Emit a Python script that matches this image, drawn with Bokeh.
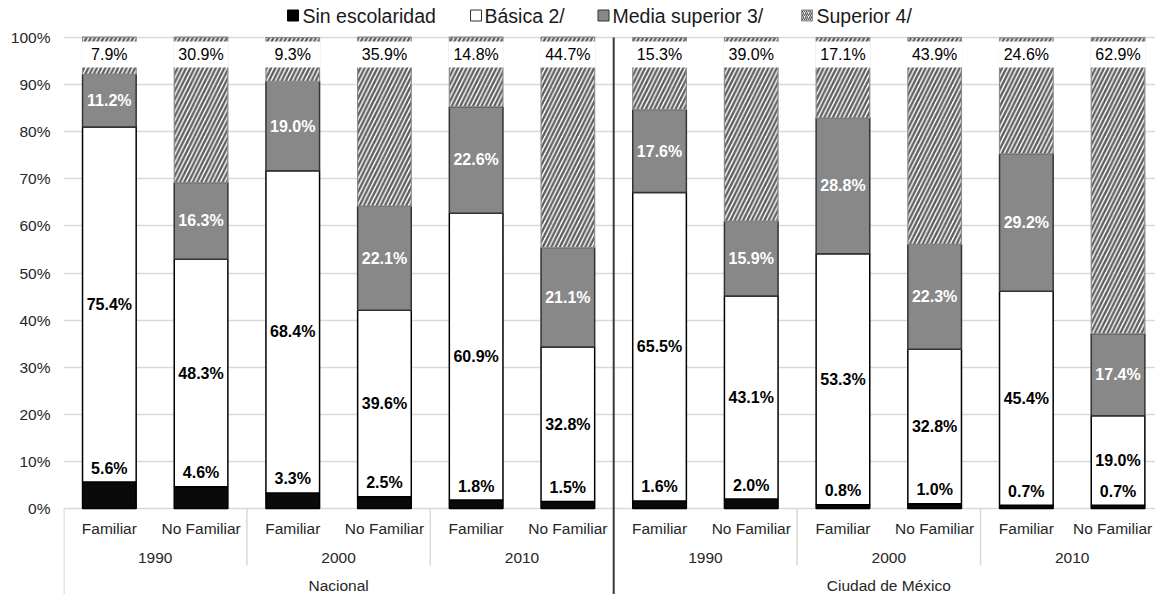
from bokeh.plotting import figure
from bokeh.models import ColumnDataSource, FixedTicker
from bokeh.core.properties import value
from bokeh.embed import file_html
from bokeh.resources import INLINE

# ---- data -------------------------------------------------------------
hogar = ["Familiar", "No Familiar"] * 6
anios = ["1990", "2000", "2010"]
ambitos = ["Nacional", "Ciudad de México"]

sin_escolaridad = [5.6, 4.6, 3.3, 2.5, 1.8, 1.5, 1.6, 2.0, 0.8, 1.0, 0.7, 0.7]
basica = [75.4, 48.3, 68.4, 39.6, 60.9, 32.8, 65.5, 43.1, 53.3, 32.8, 45.4, 19.0]
media_superior = [11.2, 16.3, 19.0, 22.1, 22.6, 21.1, 17.6, 15.9, 28.8, 22.3, 29.2, 17.4]
superior = [7.9, 30.9, 9.3, 35.9, 14.8, 44.7, 15.3, 39.0, 17.1, 43.9, 24.6, 62.9]

series_names = ["Sin escolaridad", "Básica 2/", "Media superior 3/", "Superior 4/"]
y_ticks = list(range(0, 101, 10))

# ---- layout helpers (pixel geometry of the canvas) --------------------
W, H = 1155, 594
LEFT = 63
Y0_PX, Y100_PX = 508, 37
PPU_Y = (Y0_PX - Y100_PX) / 100.0
PITCH = 91.7
Y_TOP = 100 + Y100_PX / PPU_Y
Y_BOT = -(H - Y0_PX) / PPU_Y
X_START = -0.5
X_END = X_START + (W - LEFT) / PITCH


def ydat(py):
    return (Y0_PX - py) / PPU_Y


def xdat(px):
    return X_START + (px - LEFT) / PITCH


FONT = value("Liberation Sans")
TXT = "#262626"
BAR_W = 0.585
HATCH = dict(hatch_pattern="/", hatch_color="#5e5e5e")

p = figure(width=W, height=H, output_backend="svg", toolbar_location=None,
           x_range=(X_START, X_END), y_range=(Y_BOT, Y_TOP),
           x_axis_location=None, min_border_left=LEFT, min_border_right=0,
           min_border_top=0, min_border_bottom=0)
p.outline_line_color = None
p.background_fill_color = "white"
p.border_fill_color = "white"
p.xgrid.visible = False

ax = p.yaxis[0]
ax.ticker = FixedTicker(ticks=y_ticks)
ax.major_label_overrides = {t: f"{t}%" for t in y_ticks}
ax.axis_line_color = None
ax.major_tick_line_color = None
ax.minor_tick_line_color = None
ax.major_tick_out = 0
ax.major_label_standoff = 13
ax.major_label_text_font = "Liberation Sans"
ax.major_label_text_font_size = "15.5px"
ax.major_label_text_color = TXT

p.ygrid.ticker = FixedTicker(ticks=y_ticks)
p.ygrid.grid_line_color = "#d9d9d9"
p.ygrid.grid_line_width = 1.5

# ---- stacked bars -----------------------------------------------------
xs = list(range(len(hogar)))
b0 = [0.0] * len(xs)
t0 = sin_escolaridad
b1 = t0
t1 = [a + b for a, b in zip(b1, basica)]
b2 = t1
t2 = [a + b for a, b in zip(b2, media_superior)]
b3 = t2
t3 = [a + b for a, b in zip(b3, superior)]

p.vbar(x=xs, bottom=b0, top=t0, width=BAR_W, fill_color="#0a0a0a",
       line_color="black", line_width=1.5)
p.vbar(x=xs, bottom=b1, top=t1, width=BAR_W, fill_color="white",
       line_color="black", line_width=1.5)
p.vbar(x=xs, bottom=b2, top=t2, width=BAR_W, fill_color="#888888",
       line_color="#333333", line_width=1.5)
p.vbar(x=xs, bottom=b3, top=t3, width=BAR_W, fill_color="white",
       line_color="#8c8c8c", line_width=1.2,
       hatch_weight=2.4, hatch_scale=8.5, **HATCH)

# white boxes holding the "Superior" labels near the top
box_lo, box_hi = ydat(67), ydat(41)
p.rect(x=xs, y=[(box_lo + box_hi) / 2] * len(xs), width=BAR_W + 0.02,
       height=box_hi - box_lo, fill_color="white", line_color=None)

# ---- data labels ------------------------------------------------------
def fmt(vals):
    return [f"{v:.1f}%" for v in vals]


lab_common = dict(text_font=FONT, text_align="center", text_baseline="middle")

src_sin = ColumnDataSource(dict(x=xs, y=[v + 14 / PPU_Y for v in t0], t=fmt(sin_escolaridad)))
p.text(x="x", y="y", text="t", source=src_sin, text_font_size="16px",
       text_font_style="bold", text_color="black", **lab_common)

src_bas = ColumnDataSource(dict(x=xs, y=[(a + b) / 2 for a, b in zip(b1, t1)], t=fmt(basica)))
p.text(x="x", y="y", text="t", source=src_bas, text_font_size="16px",
       text_font_style="bold", text_color="black", **lab_common)

src_med = ColumnDataSource(dict(x=xs, y=[(a + b) / 2 for a, b in zip(b2, t2)], t=fmt(media_superior)))
p.text(x="x", y="y", text="t", source=src_med, text_font_size="16px",
       text_font_style="bold", text_color="white", **lab_common)

src_sup = ColumnDataSource(dict(x=xs, y=[(box_lo + box_hi) / 2] * len(xs), t=fmt(superior)))
p.text(x="x", y="y", text="t", source=src_sup, text_font_size="16px",
       text_color="black", **lab_common)

# ---- multi-level category axis ---------------------------------------
# the last category label is pulled in slightly so it stays on the canvas
cat_x = xs[:-1] + [xs[-1] - 0.06]
p.text(x=cat_x, y=[ydat(528)] * len(xs), text=hogar, text_font_size="15.5px",
       text_color=TXT, **lab_common)
year_x = [2 * i + 0.5 for i in range(6)]
p.text(x=year_x, y=[ydat(557)] * 6, text=anios * 2, text_font_size="15.5px",
       text_color=TXT, **lab_common)
p.text(x=[2.5, 8.5], y=[ydat(585)] * 2, text=ambitos, text_font_size="15.5px",
       text_color=TXT, **lab_common)

# light separators between years and the left edge
sep_x = [-0.495, 1.5, 3.5, 7.5, 9.5]
sep_y1 = [Y_BOT, ydat(565), ydat(565), ydat(565), ydat(565)]
p.segment(x0=sep_x, y0=[0] * len(sep_x), x1=sep_x, y1=sep_y1,
          line_color="#d9d9d9", line_width=1.5)
# dark divider between Nacional and Ciudad de México
p.segment(x0=[5.5], y0=[100], x1=[5.5], y1=[Y_BOT], line_color="#3a3a3a", line_width=2)

# ---- legend -----------------------------------------------------------
leg_y = ydat(15)
sq_px = [292.5, 475.5, 603, 806.5]
tx_px = [302, 484, 612, 816]
sq = dict(width=11, height=11, width_units="screen", height_units="screen")
p.rect(x=[xdat(sq_px[0])], y=[leg_y], fill_color="black", line_color="black", **sq)
p.rect(x=[xdat(sq_px[1])], y=[leg_y], fill_color="white", line_color="#333333",
       line_width=1, **sq)
p.rect(x=[xdat(sq_px[2])], y=[leg_y], fill_color="#888888", line_color="#333333",
       line_width=1, **sq)
p.rect(x=[xdat(sq_px[3])], y=[leg_y], fill_color="white", line_color="#8c8c8c",
       line_width=1, hatch_weight=1.3, hatch_scale=4, **HATCH, **sq)
p.text(x=[xdat(px) for px in tx_px], y=[leg_y] * 4, text=series_names,
       text_font=FONT, text_font_size="19.5px", text_color="#1a1a1a",
       text_align="left", text_baseline="middle")

open("out.html", "w").write(file_html(p, INLINE))
